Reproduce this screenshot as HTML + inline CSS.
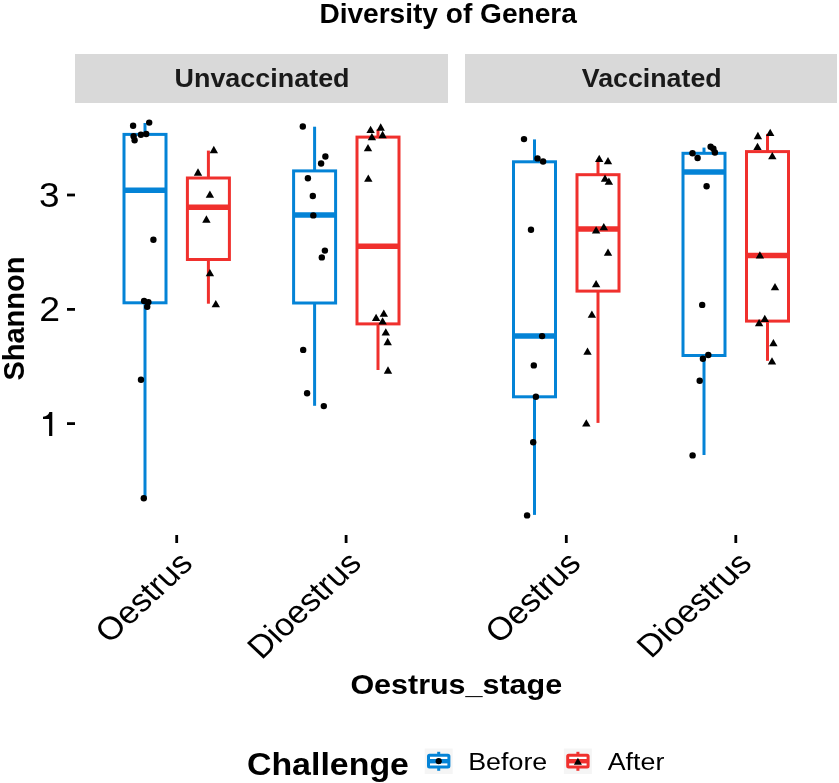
<!DOCTYPE html>
<html><head><meta charset="utf-8"><style>
html,body{margin:0;padding:0;background:#fff;}
svg{display:block;font-family:"Liberation Sans",sans-serif;will-change:transform;}
</style></head><body>
<svg width="839" height="783" viewBox="0 0 839 783">
<rect width="839" height="783" fill="#fff"/>
<rect x="75" y="54" width="373" height="49" fill="#D9D9D9"/>
<rect x="465" y="54" width="372" height="49" fill="#D9D9D9"/>
<line x1="67" x2="75" y1="195.0" y2="195.0" stroke="#000" stroke-width="2.8"/>
<line x1="67" x2="75" y1="309.4" y2="309.4" stroke="#000" stroke-width="2.8"/>
<line x1="67" x2="75" y1="423.6" y2="423.6" stroke="#000" stroke-width="2.8"/>
<line x1="176.7" x2="176.7" y1="535" y2="543" stroke="#000" stroke-width="2.8"/>
<line x1="346.1" x2="346.1" y1="535" y2="543" stroke="#000" stroke-width="2.8"/>
<line x1="566.3" x2="566.3" y1="535" y2="543" stroke="#000" stroke-width="2.8"/>
<line x1="735.8" x2="735.8" y1="535" y2="543" stroke="#000" stroke-width="2.8"/>
<line x1="145.0" x2="145.0" y1="123.0" y2="134.4" stroke="#0483D6" stroke-width="3.0"/>
<line x1="145.0" x2="145.0" y1="302.8" y2="498.8" stroke="#0483D6" stroke-width="3.0"/>
<rect x="124.0" y="134.4" width="42.0" height="168.40" fill="#fff" stroke="#0483D6" stroke-width="3.0"/>
<line x1="124.0" x2="166.0" y1="190.2" y2="190.2" stroke="#0483D6" stroke-width="5.5"/>
<line x1="208.4" x2="208.4" y1="150.6" y2="178.0" stroke="#F0302D" stroke-width="3.0"/>
<line x1="208.4" x2="208.4" y1="259.5" y2="303.7" stroke="#F0302D" stroke-width="3.0"/>
<rect x="187.4" y="178.0" width="42.0" height="81.50" fill="#fff" stroke="#F0302D" stroke-width="3.0"/>
<line x1="187.4" x2="229.4" y1="207.2" y2="207.2" stroke="#F0302D" stroke-width="5.5"/>
<line x1="314.6" x2="314.6" y1="126.7" y2="170.9" stroke="#0483D6" stroke-width="3.0"/>
<line x1="314.6" x2="314.6" y1="303.0" y2="405.8" stroke="#0483D6" stroke-width="3.0"/>
<rect x="293.6" y="170.9" width="42.0" height="132.10" fill="#fff" stroke="#0483D6" stroke-width="3.0"/>
<line x1="293.6" x2="335.6" y1="215.0" y2="215.0" stroke="#0483D6" stroke-width="5.5"/>
<line x1="378.0" x2="378.0" y1="129.4" y2="137.1" stroke="#F0302D" stroke-width="3.0"/>
<line x1="378.0" x2="378.0" y1="323.9" y2="370.0" stroke="#F0302D" stroke-width="3.0"/>
<rect x="357.0" y="137.1" width="42.0" height="186.80" fill="#fff" stroke="#F0302D" stroke-width="3.0"/>
<line x1="357.0" x2="399.0" y1="246.2" y2="246.2" stroke="#F0302D" stroke-width="5.5"/>
<line x1="534.5" x2="534.5" y1="139.4" y2="161.8" stroke="#0483D6" stroke-width="3.0"/>
<line x1="534.5" x2="534.5" y1="396.8" y2="514.9" stroke="#0483D6" stroke-width="3.0"/>
<rect x="513.5" y="161.8" width="42.0" height="235.00" fill="#fff" stroke="#0483D6" stroke-width="3.0"/>
<line x1="513.5" x2="555.5" y1="335.9" y2="335.9" stroke="#0483D6" stroke-width="5.5"/>
<line x1="598.0" x2="598.0" y1="159.5" y2="174.7" stroke="#F0302D" stroke-width="3.0"/>
<line x1="598.0" x2="598.0" y1="291.1" y2="422.9" stroke="#F0302D" stroke-width="3.0"/>
<rect x="577.0" y="174.7" width="42.0" height="116.40" fill="#fff" stroke="#F0302D" stroke-width="3.0"/>
<line x1="577.0" x2="619.0" y1="229.0" y2="229.0" stroke="#F0302D" stroke-width="5.5"/>
<line x1="704.0" x2="704.0" y1="147.6" y2="153.3" stroke="#0483D6" stroke-width="3.0"/>
<line x1="704.0" x2="704.0" y1="355.5" y2="455.0" stroke="#0483D6" stroke-width="3.0"/>
<rect x="683.0" y="153.3" width="42.0" height="202.20" fill="#fff" stroke="#0483D6" stroke-width="3.0"/>
<line x1="683.0" x2="725.0" y1="172.1" y2="172.1" stroke="#0483D6" stroke-width="5.5"/>
<line x1="767.5" x2="767.5" y1="133.9" y2="151.6" stroke="#F0302D" stroke-width="3.0"/>
<line x1="767.5" x2="767.5" y1="321.1" y2="360.8" stroke="#F0302D" stroke-width="3.0"/>
<rect x="746.5" y="151.6" width="42.0" height="169.50" fill="#fff" stroke="#F0302D" stroke-width="3.0"/>
<line x1="746.5" x2="788.5" y1="255.6" y2="255.6" stroke="#F0302D" stroke-width="5.5"/>
<g fill="#000">
<circle cx="133.1" cy="125.7" r="3.2"/>
<circle cx="149.2" cy="122.6" r="3.2"/>
<circle cx="133.6" cy="136.2" r="3.2"/>
<circle cx="134.6" cy="140.3" r="3.2"/>
<circle cx="140.9" cy="134.8" r="3.2"/>
<circle cx="146.2" cy="134" r="3.2"/>
<circle cx="153.4" cy="239.8" r="3.2"/>
<circle cx="144.1" cy="300.9" r="3.2"/>
<circle cx="148.4" cy="302.1" r="3.2"/>
<circle cx="147.2" cy="306.8" r="3.2"/>
<circle cx="141" cy="379.8" r="3.2"/>
<circle cx="143.8" cy="498.3" r="3.2"/>
<polygon points="209.60,153.14 218.00,153.14 213.80,145.86"/>
<polygon points="193.80,175.64 202.20,175.64 198.00,168.36"/>
<polygon points="205.70,197.74 214.10,197.74 209.90,190.46"/>
<polygon points="202.20,222.64 210.60,222.64 206.40,215.36"/>
<polygon points="205.70,276.34 214.10,276.34 209.90,269.06"/>
<polygon points="211.60,307.34 220.00,307.34 215.80,300.06"/>
<circle cx="302.8" cy="126.5" r="3.2"/>
<circle cx="325.4" cy="156.5" r="3.2"/>
<circle cx="321.1" cy="163.5" r="3.2"/>
<circle cx="307.9" cy="178.2" r="3.2"/>
<circle cx="312.8" cy="196" r="3.2"/>
<circle cx="313.3" cy="215.4" r="3.2"/>
<circle cx="324.9" cy="250.6" r="3.2"/>
<circle cx="321.8" cy="257.4" r="3.2"/>
<circle cx="303.2" cy="349.9" r="3.2"/>
<circle cx="307.1" cy="393.3" r="3.2"/>
<circle cx="323.8" cy="406.1" r="3.2"/>
<polygon points="366.40,133.04 374.80,133.04 370.60,125.76"/>
<polygon points="376.50,130.64 384.90,130.64 380.70,123.36"/>
<polygon points="367.70,140.24 376.10,140.24 371.90,132.96"/>
<polygon points="378.40,138.14 386.80,138.14 382.60,130.86"/>
<polygon points="363.80,151.34 372.20,151.34 368.00,144.06"/>
<polygon points="364.10,181.84 372.50,181.84 368.30,174.56"/>
<polygon points="371.90,321.04 380.30,321.04 376.10,313.76"/>
<polygon points="379.60,316.84 388.00,316.84 383.80,309.56"/>
<polygon points="378.40,324.54 386.80,324.54 382.60,317.26"/>
<polygon points="381.60,335.44 390.00,335.44 385.80,328.16"/>
<polygon points="383.50,345.14 391.90,345.14 387.70,337.86"/>
<polygon points="383.80,373.64 392.20,373.64 388.00,366.36"/>
<circle cx="524" cy="139.1" r="3.2"/>
<circle cx="537.5" cy="158.4" r="3.2"/>
<circle cx="543.1" cy="161.5" r="3.2"/>
<circle cx="531" cy="229.7" r="3.2"/>
<circle cx="542.1" cy="336.1" r="3.2"/>
<circle cx="533.8" cy="365.4" r="3.2"/>
<circle cx="535.9" cy="396.8" r="3.2"/>
<circle cx="533.2" cy="442.3" r="3.2"/>
<circle cx="527.1" cy="515.4" r="3.2"/>
<polygon points="595.00,162.04 603.40,162.04 599.20,154.76"/>
<polygon points="603.80,164.24 612.20,164.24 608.00,156.96"/>
<polygon points="600.80,181.74 609.20,181.74 605.00,174.46"/>
<polygon points="604.70,184.84 613.10,184.84 608.90,177.56"/>
<polygon points="591.90,233.44 600.30,233.44 596.10,226.16"/>
<polygon points="599.60,230.34 608.00,230.34 603.80,223.06"/>
<polygon points="603.80,255.74 612.20,255.74 608.00,248.46"/>
<polygon points="591.90,287.24 600.30,287.24 596.10,279.96"/>
<polygon points="587.70,317.84 596.10,317.84 591.90,310.56"/>
<polygon points="583.30,354.74 591.70,354.74 587.50,347.46"/>
<polygon points="582.10,426.54 590.50,426.54 586.30,419.26"/>
<circle cx="692.5" cy="153.3" r="3.2"/>
<circle cx="697.6" cy="158" r="3.2"/>
<circle cx="710.6" cy="146.8" r="3.2"/>
<circle cx="713.4" cy="148.7" r="3.2"/>
<circle cx="714.9" cy="152.5" r="3.2"/>
<circle cx="706.6" cy="186.2" r="3.2"/>
<circle cx="702.2" cy="304.9" r="3.2"/>
<circle cx="708.3" cy="355" r="3.2"/>
<circle cx="702.9" cy="358.7" r="3.2"/>
<circle cx="699.7" cy="380.7" r="3.2"/>
<circle cx="692.6" cy="455.4" r="3.2"/>
<polygon points="753.70,139.14 762.10,139.14 757.90,131.86"/>
<polygon points="766.00,136.04 774.40,136.04 770.20,128.76"/>
<polygon points="753.30,149.94 761.70,149.94 757.50,142.66"/>
<polygon points="768.10,159.24 776.50,159.24 772.30,151.96"/>
<polygon points="755.70,258.54 764.10,258.54 759.90,251.26"/>
<polygon points="770.80,290.24 779.20,290.24 775.00,282.96"/>
<polygon points="760.60,322.04 769.00,322.04 764.80,314.76"/>
<polygon points="754.90,326.24 763.30,326.24 759.10,318.96"/>
<polygon points="769.20,346.24 777.60,346.24 773.40,338.96"/>
<polygon points="767.80,364.44 776.20,364.44 772.00,357.16"/>
</g>
<rect x="424.7" y="748.5" width="28" height="25.5" fill="#F5F5F5"/><line x1="438.7" x2="438.7" y1="751.8" y2="770.8" stroke="#0483D6" stroke-width="3"/><rect x="428.5" y="755.3" width="20.4" height="11.8" rx="1" fill="#fff" stroke="#0483D6" stroke-width="3"/><line x1="428.5" x2="448.9" y1="761.2" y2="761.2" stroke="#0483D6" stroke-width="4.4"/><circle cx="438.7" cy="761.2" r="3.1" fill="#000"/>
<rect x="563.9" y="748.5" width="28" height="25.5" fill="#F5F5F5"/><line x1="577.9" x2="577.9" y1="751.8" y2="770.8" stroke="#F0302D" stroke-width="3"/><rect x="567.6999999999999" y="755.3" width="20.4" height="11.8" rx="1" fill="#fff" stroke="#F0302D" stroke-width="3"/><line x1="567.6999999999999" x2="588.1" y1="761.2" y2="761.2" stroke="#F0302D" stroke-width="4.4"/><g fill="#000"><polygon points="573.90,764.66 581.90,764.66 577.90,757.74"/></g>
<text transform="translate(319.40,23.10) scale(0.9992,1.0000)" font-size="28.1" font-weight="bold" fill="#000">Diversity of Genera</text>
<text transform="translate(174.50,87.40) scale(1.0818,1.0000)" font-size="24.9" font-weight="bold" fill="#1A1A1A">Unvaccinated</text>
<text transform="translate(581.80,87.40) scale(1.0750,1.0000)" font-size="24.9" font-weight="bold" fill="#1A1A1A">Vaccinated</text>
<text transform="translate(38.90,207.30) scale(1.0409,0.9963)" font-size="35.5" font-weight="normal" fill="#000">3</text>
<text transform="translate(39.20,321.40) scale(1.0526,0.9963)" font-size="35.5" font-weight="normal" fill="#000">2</text>
<text transform="translate(350.40,694.30) scale(1.1166,1.0000)" font-size="27.3" font-weight="bold" fill="#000">Oestrus_stage</text>
<text transform="translate(246.90,774.50) scale(1.0946,1.0000)" font-size="31.0" font-weight="bold" fill="#000">Challenge</text>
<text transform="translate(468.20,769.80) scale(1.1091,1.0000)" font-size="24.2" font-weight="normal" fill="#000">Before</text>
<text transform="translate(607.70,769.70) scale(1.1081,1.0000)" font-size="24.2" font-weight="normal" fill="#000">After</text>
<text transform="translate(23.70,380.60) scale(1.0000,0.9903) rotate(-90)" font-size="29.3" font-weight="bold" fill="#000">Shannon</text>
<text transform="translate(109.50,644.50) scale(1.0731,1.0003) rotate(-45)" font-size="32" font-weight="normal" fill="#000">Oestrus</text>
<text transform="translate(261.40,660.60) scale(1.0328,0.9699) rotate(-45)" font-size="33" font-weight="normal" fill="#000">Dioestrus</text>
<text transform="translate(499.20,645.10) scale(1.0523,1.0122) rotate(-45)" font-size="32" font-weight="normal" fill="#000">Oestrus</text>
<text transform="translate(651.10,659.30) scale(1.0382,0.9567) rotate(-45)" font-size="33" font-weight="normal" fill="#000">Dioestrus</text>
<path d="M52.3,412.1 L52.3,436 L49.1,436 L49.1,419.0 L43,419.0 L43,416.8 C46.5,416.6 48.6,415 49.4,412.1 Z" fill="#000"/>
</svg>
</body></html>
